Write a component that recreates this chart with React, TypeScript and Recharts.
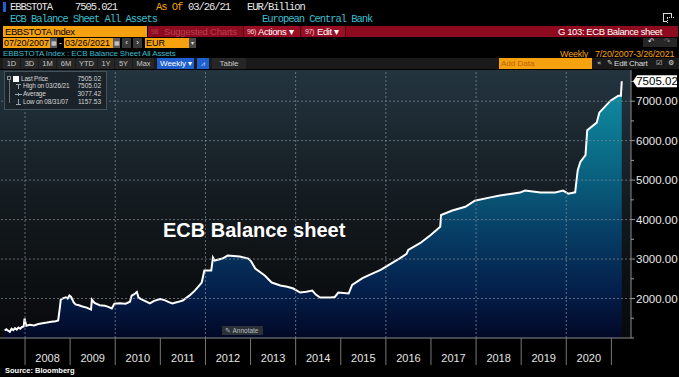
import React from 'react';
import { AreaChart, Area, XAxis, YAxis, CartesianGrid, ReferenceLine } from 'recharts';

const dates = [
  '2007-07-20', '2007-08-03', '2007-08-17', '2007-08-31', '2007-09-14', '2007-09-28', '2007-10-12', '2007-10-26',
  '2007-11-09', '2007-11-23', '2007-12-07', '2007-12-21', '2007-12-28', '2008-01-11', '2008-02-08', '2008-03-14',
  '2008-04-18', '2008-05-23', '2008-06-27', '2008-08-01', '2008-09-05', '2008-09-26', '2008-10-10', '2008-10-17',
  '2008-11-07', '2008-11-28', '2008-12-12', '2008-12-26', '2009-01-09', '2009-01-30', '2009-02-13', '2009-03-13',
  '2009-04-10', '2009-05-15', '2009-06-19', '2009-06-26', '2009-07-17', '2009-08-28', '2009-10-09', '2009-11-06',
  '2009-12-04', '2009-12-25', '2010-02-05', '2010-03-26', '2010-04-30', '2010-05-14', '2010-06-04', '2010-06-25',
  '2010-07-09', '2010-08-06', '2010-09-10', '2010-10-08', '2010-11-12', '2010-12-31', '2011-02-04', '2011-03-11',
  '2011-04-08', '2011-05-20', '2011-07-01', '2011-08-26', '2011-10-07', '2011-11-04', '2011-12-02', '2011-12-23',
  '2012-02-17', '2012-03-02', '2012-03-16', '2012-05-18', '2012-06-29', '2012-08-17', '2012-10-05', '2012-12-14',
  '2013-01-04', '2013-02-08', '2013-04-26', '2013-06-21', '2013-08-30', '2013-10-25', '2013-12-13', '2014-02-07',
  '2014-03-28', '2014-05-16', '2014-06-13', '2014-07-18', '2014-10-10', '2014-11-14', '2014-12-12', '2015-03-06',
  '2015-04-03', '2015-06-26', '2015-09-04', '2015-11-20', '2016-02-05', '2016-04-29', '2016-06-17', '2016-07-01',
  '2016-10-07', '2016-12-30', '2017-03-17', '2017-03-24', '2017-06-23', '2017-10-06', '2017-12-22', '2018-04-27',
  '2018-07-13', '2018-10-05', '2018-12-21', '2019-02-01', '2019-06-07', '2019-10-04', '2019-12-06', '2020-01-17',
  '2020-03-13', '2020-04-03', '2020-04-24', '2020-06-05', '2020-06-19', '2020-09-04', '2020-09-25', '2020-12-25',
  '2021-02-26', '2021-03-19', '2021-03-26',
];

const values = [
  1190, 1220, 1185, 1158, 1235, 1200, 1250, 1215,
  1265, 1235, 1280, 1290, 1494, 1310, 1335, 1320,
  1355, 1375, 1390, 1410, 1425, 1445, 1780, 1975,
  2010, 2030, 2000, 2075, 2040, 1900, 1850, 1830,
  1800, 1770, 1720, 1975, 1890, 1830, 1815, 1790,
  1750, 1870, 1880, 1870, 1920, 2075, 2110, 2165,
  2020, 1975, 1920, 1875, 1940, 1990, 1960, 1910,
  1875, 1910, 1950, 2080, 2200, 2300, 2405, 2709,
  2709, 3038, 2962, 3013, 3089, 3075, 3063, 3013,
  2950, 2760, 2582, 2405, 2329, 2300, 2253, 2152,
  2170, 2203, 2100, 2025, 2025, 2040, 2152, 2127,
  2346, 2516, 2620, 2725, 2870, 3029, 3130, 3231,
  3408, 3610, 3820, 4116, 4231, 4326, 4477, 4563,
  4608, 4650, 4684, 4734, 4684, 4684, 4734, 4658,
  4690, 5253, 5463, 5633, 6265, 6456, 6709, 7013,
  7139, 7139, 7505.02,
];

const yearLabels = ['2008', '2009', '2010', '2011', '2012', '2013', '2014', '2015', '2016', '2017', '2018', '2019', '2020'];
const gridYears = [2008, 2010, 2012, 2014, 2016, 2018, 2020];
const yMinorTicks = [1000, 1500, 2000, 2500, 3000, 3500, 4000, 4500, 5000, 5500, 6000, 6500, 7000, 7500];
const yLabelTicks = [2000, 3000, 4000, 5000, 6000, 7000];
const lastValue = 7505.02;

const legendLabels = ['Last Price', 'High on 03/26/21', 'Average', 'Low on 08/31/07'];
const legendValues = ['7505.02', '7505.02', '3077.42', '1157.53'];

const periodButtons = ['1D', '3D', '1M', '6M', 'YTD', '1Y', '5Y', 'Max'];

function toYear(d: string): number {
  const [y, m, dd] = d.split('-').map(Number);
  const start = Date.UTC(y, 0, 1);
  const end = Date.UTC(y + 1, 0, 1);
  return y + (Date.UTC(y, m - 1, dd) - start) / (end - start);
}

const data = dates.map((d, i) => ({ t: toYear(d), v: values[i] }));
const yearStarts = yearLabels.map(Number);
const xTicks: number[] = [];
yearStarts.forEach((y) => { xTicks.push(y); xTicks.push(y + 0.5); });
xTicks.push(yearStarts[yearStarts.length - 1] + 1);
const yTicks = [...yMinorTicks, lastValue];

const SANS = '"Liberation Sans", Arial, sans-serif';
const MONO = '"Liberation Mono", "DejaVu Sans Mono", monospace';
const ORANGE = '#f6a10f';
const CYAN = '#3abfcf';
const RED = '#8e0b1f';

const XTick = (p: any) => {
  const { x, y, payload } = p;
  const v = payload.value as number;
  if (Number.isInteger(v)) {
    return <line x1={x} x2={x} y1={y} y2={y + 27} stroke="#777" strokeWidth={1} />;
  }
  const label = yearLabels[Math.floor(v) - yearStarts[0]];
  return (
    <text x={x} y={y + 24} textAnchor="middle" fill="#e4e4e4" fontSize={11} fontFamily={SANS}>
      {label}
    </text>
  );
};

const YTick = (p: any) => {
  const { x, y, payload } = p;
  const v = payload.value as number;
  if (v === lastValue) {
    return (
      <g>
        <polygon points={`${x + 2},${y} ${x + 6},${y - 6} ${x + 46},${y - 6} ${x + 46},${y + 6} ${x + 6},${y + 6}`} fill="#fff" />
        <text x={x + 26} y={y + 4} textAnchor="middle" fill="#000" fontSize={11.5} fontFamily={SANS}>
          {v.toFixed(2)}
        </text>
      </g>
    );
  }
  const major = yLabelTicks.includes(v);
  return (
    <g>
      <line x1={x} x2={x + (major ? 4 : 3)} y1={y} y2={y} stroke="#9a9a9a" />
      {major && (
        <text x={x + 5} y={y + 4} fill="#e8e8e8" fontSize={11.5} fontFamily={SANS}>
          {v.toFixed(2)}
        </text>
      )}
    </g>
  );
};

const Box = ({ x, y, w, h, bg, children, style }: any) => (
  <div
    style={{
      position: 'absolute', left: x, top: y, width: w, height: h, background: bg,
      lineHeight: `${h}px`, whiteSpace: 'nowrap', overflow: 'hidden', boxSizing: 'border-box', ...style,
    }}
  >
    {children}
  </div>
);

const Txt = ({ x, y, h, children, style }: any) => (
  <div style={{ position: 'absolute', left: x, top: y, height: h, lineHeight: `${h}px`, whiteSpace: 'nowrap', ...style }}>
    {children}
  </div>
);

export default function App() {
  const mono = { fontFamily: MONO, fontSize: 10.5, letterSpacing: -1.05 };
  const sans = { fontFamily: SANS, fontSize: 9.5, letterSpacing: -0.4 };
  const btnX = [3, 21, 39, 57, 76, 98, 115, 133];
  const btnW = [18, 18, 18, 19, 22, 17, 18, 22];
  const glyph = '#9aa4aa';
  return (
    <div style={{ position: 'fixed', left: 0, top: 0, width: 679, height: 377, background: '#000', overflow: 'hidden', fontFamily: SANS }}>
      <div style={{ position: 'absolute', left: 0, top: 0 }}>
        <AreaChart width={679} height={377} data={data} margin={{ top: 70, right: 0, bottom: 9, left: 0 }}>
          <defs>
            <linearGradient id="bgGrad" x1="0" y1="0" x2="0" y2="1">
              <stop offset="0%" stopColor="#23343f" />
              <stop offset="55%" stopColor="#12181c" />
              <stop offset="100%" stopColor="#08090b" />
            </linearGradient>
            <linearGradient id="areaGrad" gradientUnits="userSpaceOnUse" x1="0" y1="70" x2="0" y2="338">
              <stop offset="0%" stopColor="#1194aa" />
              <stop offset="35%" stopColor="#0a6884" />
              <stop offset="60%" stopColor="#073f66" />
              <stop offset="82%" stopColor="#04204c" />
              <stop offset="100%" stopColor="#020826" />
            </linearGradient>
          </defs>
          <CartesianGrid horizontal={false} vertical={false} fill="url(#bgGrad)" fillOpacity={1} />
          <XAxis
            dataKey="t" type="number" domain={[2007.445, 2021.435]} allowDataOverflow ticks={xTicks} interval={0}
            tick={XTick} tickLine={false} tickSize={0} tickMargin={0} height={30} axisLine={{ stroke: '#8c8c8c' }}
          />
          <YAxis
            orientation="right" type="number" domain={[1000, 7790]} allowDataOverflow ticks={yTicks} interval={0}
            tick={YTick} tickLine={false} tickSize={0} tickMargin={0} width={48} axisLine={{ stroke: '#8c8c8c' }}
          />
          <Area
            type="linear" dataKey="v" stroke="#ffffff" strokeWidth={2} fill="url(#areaGrad)" fillOpacity={1}
            isAnimationActive={false} dot={false} activeDot={false}
          />
          {gridYears.map((g) => (
            <ReferenceLine key={`gx${g}`} x={g} stroke="#7d8a94" strokeOpacity={0.75} strokeWidth={1} strokeDasharray="2 2" />
          ))}
          {yLabelTicks.map((g) => (
            <ReferenceLine key={`gy${g}`} y={g} stroke="#7d8a94" strokeOpacity={0.75} strokeWidth={1} strokeDasharray="2 2" />
          ))}
        </AreaChart>
      </div>

      {/* Row 1 */}
      <Box x={3} y={2} w={3} h={10} bg="#1e5fd8" />
      <Txt x={10} y={2} h={11} style={{ ...mono, color: '#e8e8e8' }}>EBBSTOTA</Txt>
      <Txt x={75} y={2} h={11} style={{ ...mono, color: '#e8e8e8' }}>7505.021</Txt>
      <Txt x={156} y={2} h={11} style={{ ...mono, color: ORANGE }}>As Of</Txt>
      <Txt x={188} y={2} h={11} style={{ ...mono, color: '#e8e8e8' }}>03/26/21</Txt>
      <Txt x={247} y={2} h={11} style={{ ...mono, color: '#e8e8e8' }}>EUR/Billion</Txt>

      {/* Row 2 */}
      <Txt x={10} y={14} h={11} style={{ ...mono, color: CYAN }}>ECB Balance Sheet All Assets</Txt>
      <Txt x={262} y={14} h={11} style={{ ...mono, color: CYAN }}>European Central Bank</Txt>
      <Box x={663} y={13} w={9} h={9} bg="transparent" style={{ border: '1px solid #ddd' }} />
      <Box x={667} y={17} w={7} h={6} bg="#000" style={{ borderLeft: '1px dotted #ddd', borderTop: '1px dotted #ddd' }} />

      {/* Row 3 */}
      <Box x={3} y={26} w={144} h={11} bg={ORANGE} style={{ ...sans, color: '#000', paddingLeft: 2 }}>EBBSTOTA Index</Box>
      <Box x={148} y={26} w={530} h={11} bg={RED} />
      <Txt x={151} y={26} h={11} style={{ ...sans, fontSize: 7, color: '#b8404f' }}>98</Txt>
      <Txt x={164} y={26} h={11} style={{ ...sans, letterSpacing: -0.2, color: '#b8404f' }}>Suggested Charts</Txt>
      <Box x={243} y={26} w={58} h={11} bg="#9a0e25" style={{ borderLeft: '1px solid #4a0008', borderRight: '1px solid #4a0008' }} />
      <Txt x={247} y={26} h={11} style={{ ...sans, fontSize: 7, color: '#f0d0d4' }}>96)</Txt>
      <Txt x={258} y={26} h={11} style={{ ...sans, color: '#fff' }}>Actions ▾</Txt>
      <Box x={302} y={26} w={44} h={11} bg="#9a0e25" style={{ borderRight: '1px solid #4a0008' }} />
      <Txt x={305} y={26} h={11} style={{ ...sans, fontSize: 7, color: '#f0d0d4' }}>97)</Txt>
      <Txt x={317} y={26} h={11} style={{ ...sans, color: '#fff' }}>Edit ▾</Txt>
      <Txt x={558} y={26} h={11} style={{ ...sans, color: '#fff' }}>G 103: ECB Balance sheet</Txt>

      {/* Row 4 */}
      <Box x={3} y={38} w={47} h={10} bg={ORANGE} style={{ fontFamily: SANS, fontSize: 9, color: '#000', paddingLeft: 1 }}>07/20/2007</Box>
      <Box x={50} y={38} w={7} h={10} bg="#5a5a5a" style={{ fontSize: 6, color: '#ddd', textAlign: 'center' }}>▦</Box>
      <Txt x={59} y={38} h={10} style={{ fontSize: 9, color: '#ddd' }}>-</Txt>
      <Box x={64} y={38} w={49} h={10} bg={ORANGE} style={{ fontFamily: SANS, fontSize: 9, color: '#000', paddingLeft: 1 }}>03/26/2021</Box>
      <Box x={113} y={38} w={7} h={10} bg="#5a5a5a" style={{ fontSize: 6, color: '#ddd', textAlign: 'center' }}>▦</Box>
      <Box x={122} y={38} w={9} h={10} bg="#3a3a3a" style={{ fontSize: 8, color: '#eee', textAlign: 'center' }}>‹</Box>
      <Box x={133} y={38} w={9} h={10} bg="#3a3a3a" style={{ fontSize: 8, color: '#eee', textAlign: 'center' }}>›</Box>
      <Box x={145} y={38} w={44} h={10} bg={ORANGE} style={{ fontFamily: SANS, fontSize: 9, color: '#000', paddingLeft: 1 }}>EUR</Box>
      <Box x={189} y={38} w={7} h={10} bg="#4a4a4a" style={{ fontSize: 6, color: '#ddd', textAlign: 'center' }}>▾</Box>
      <Box x={643} y={38} w={34} h={9} bg="#262626" />
      <Txt x={648} y={37} h={10} style={{ fontFamily: '"DejaVu Sans", sans-serif', fontSize: 8, color: '#ddd' }}>↶</Txt>
      <Txt x={664} y={37} h={10} style={{ fontFamily: '"DejaVu Sans", sans-serif', fontSize: 8, color: '#777' }}>↷</Txt>

      {/* Row 5 */}
      <Txt x={3} y={48.5} h={10} style={{ fontFamily: SANS, fontSize: 8, letterSpacing: -0.1, color: CYAN }}>
        EBBSTOTA Index : ECB Balance Sheet All Assets
      </Txt>
      <Txt x={560} y={48.5} h={10} style={{ fontFamily: SANS, fontSize: 9, letterSpacing: -0.2, color: ORANGE }}>Weekly</Txt>
      <Txt x={595} y={48.5} h={10} style={{ fontFamily: SANS, fontSize: 9, letterSpacing: -0.2, color: ORANGE }}>7/20/2007-3/26/2021</Txt>

      {/* Row 6 toolbar */}
      <Box x={0} y={58} w={679} h={11} bg="#1a1a1a" />
      {periodButtons.map((b, i) => (
        <Box key={b} x={btnX[i]} y={58} w={btnW[i] - 1} h={11} bg="#262626"
          style={{ fontFamily: SANS, fontSize: 7.5, color: '#c8c8c8', textAlign: 'center' }}>
          {b}
        </Box>
      ))}
      <Box x={157} y={58} w={37} h={11} bg="#1f5fcf" style={{ fontFamily: SANS, fontSize: 8, color: '#fff', paddingLeft: 3 }}>Weekly ▾</Box>
      <Box x={197} y={58} w={12} h={11} bg="#1f5fcf" style={{ fontSize: 7, color: '#cfe0ff', textAlign: 'center' }}>⩘</Box>
      <Box x={212} y={58} w={34} h={11} bg="#262626" style={{ fontFamily: SANS, fontSize: 8, color: '#c8c8c8', textAlign: 'center' }}>Table</Box>
      <Box x={499} y={58} w={93} h={11} bg={ORANGE} style={{ fontFamily: SANS, fontSize: 8, color: '#b56400', paddingLeft: 2 }}>Add Data</Box>
      <Txt x={597} y={58} h={11} style={{ fontFamily: '"DejaVu Sans", sans-serif', fontSize: 7, color: '#ddd' }}>«</Txt>
      <Txt x={607} y={58} h={11} style={{ fontFamily: '"DejaVu Sans", sans-serif', fontSize: 7, color: '#ddd' }}>✎</Txt>
      <Txt x={614} y={58} h={11} style={{ fontFamily: SANS, fontSize: 8, letterSpacing: -0.2, color: '#ddd' }}>Edit Chart</Txt>
      <Txt x={656} y={58} h={11} style={{ fontFamily: '"DejaVu Sans", sans-serif', fontSize: 7, color: '#ddd' }}>☑</Txt>
      <Txt x={668} y={58} h={11} style={{ fontFamily: '"DejaVu Sans", sans-serif', fontSize: 7, color: '#ddd' }}>⚙</Txt>

      {/* Legend */}
      <Box x={4} y={71} w={103} h={39} bg="rgba(26,34,40,0.92)" style={{ border: '1px solid #46525a' }} />
      <Box x={7} y={76} w={4} h={4} bg="transparent" style={{ border: '1px solid #8a949a' }} />
      <Box x={9} y={80} w={1} h={23} bg="#6a747a" />
      <Box x={13} y={75.5} w={6} h={6} bg="#fff" />
      <Box x={16} y={84} w={5} h={1} bg={glyph} />
      <Box x={18} y={84} w={1} h={5} bg={glyph} />
      <Box x={15} y={94} w={7} h={1} bg={glyph} />
      <Box x={18} y={93} w={1} h={3} bg={glyph} />
      <Box x={18} y={99} w={1} h={5} bg={glyph} />
      <Box x={16} y={104} w={5} h={1} bg={glyph} />
      {legendLabels.map((l, i) => (
        <React.Fragment key={l}>
          <Txt x={i === 0 ? 21 : 23} y={74.5 + i * 7.9} h={8} style={{ fontFamily: SANS, fontSize: 6.5, letterSpacing: -0.2, color: '#d4d4d4' }}>{l}</Txt>
          <div style={{ position: 'absolute', left: 70, width: 31, top: 74.5 + i * 7.9, height: 8, lineHeight: '8px', textAlign: 'right', fontFamily: SANS, fontSize: 6.5, color: '#d4d4d4' }}>
            {legendValues[i]}
          </div>
        </React.Fragment>
      ))}

      {/* Title in chart */}
      <Txt x={163} y={220} h={21} style={{ fontFamily: SANS, fontSize: 20, fontWeight: 'bold', color: '#fff' }}>ECB Balance sheet</Txt>

      {/* Annotate */}
      <Box x={222} y={326} w={41} h={9} bg="#2b3137" style={{ fontFamily: SANS, fontSize: 6.5, color: '#b8bcc0', paddingLeft: 3 }}>✎ Annotate</Box>

      {/* Source */}
      <Txt x={5} y={366} h={9} style={{ fontFamily: SANS, fontSize: 7.5, fontWeight: 'bold', color: '#fff' }}>Source:  Bloomberg</Txt>
    </div>
  );
}
